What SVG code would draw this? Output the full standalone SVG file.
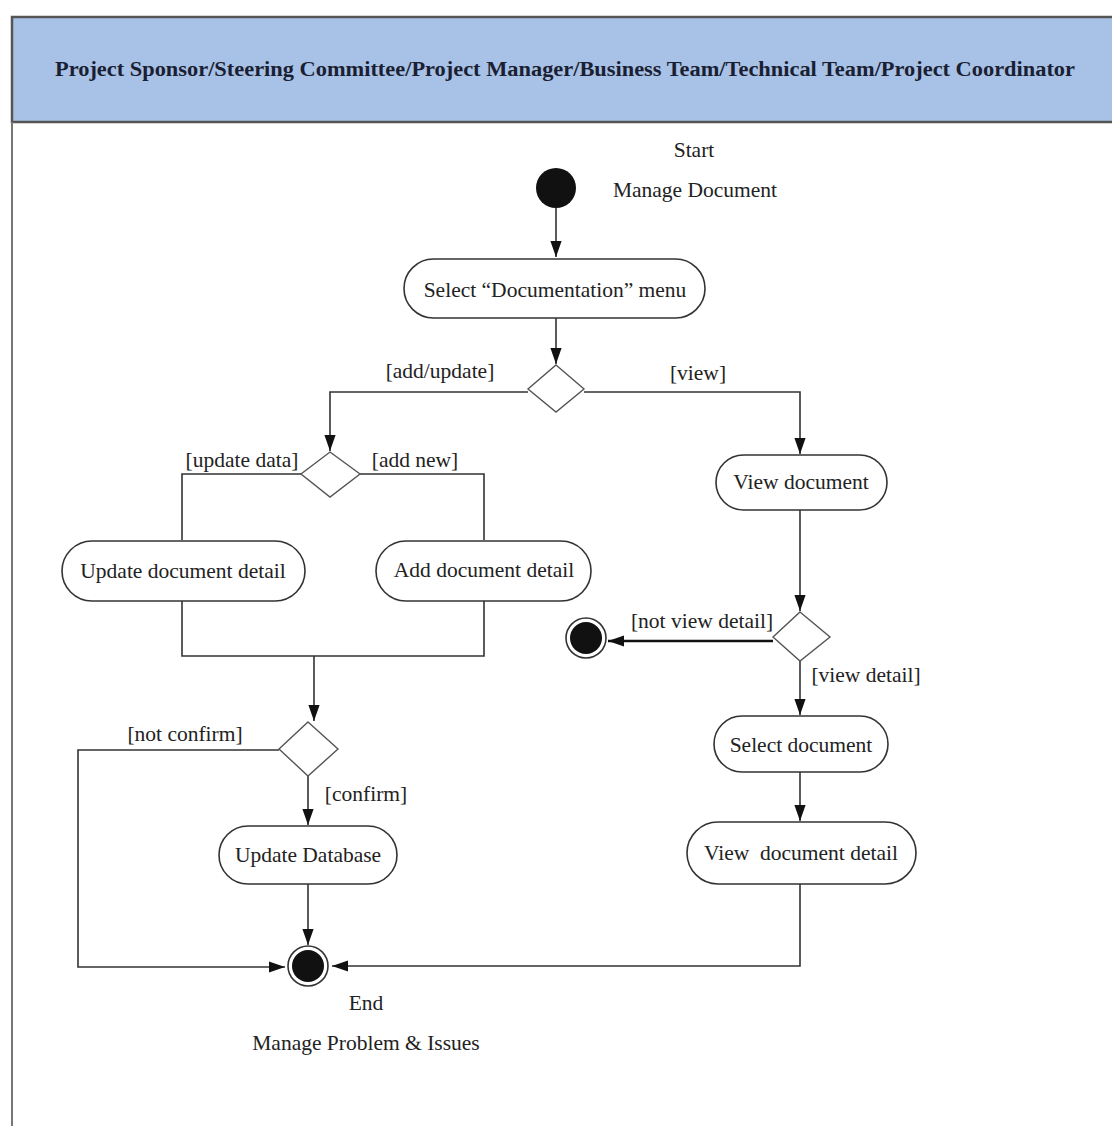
<svg xmlns="http://www.w3.org/2000/svg" width="1112" height="1126" viewBox="0 0 1112 1126">
<style>
.t{font-family:"Liberation Serif","Times New Roman",serif;font-size:21.5px;fill:#222;}
.tc{text-anchor:middle;}
.act{fill:#fff;stroke:#333;stroke-width:1.6;}
.dec{fill:#fff;stroke:#555;stroke-width:1.4;}
.ln{fill:none;stroke:#333;stroke-width:1.6;}
.lnk{fill:none;stroke:#111;stroke-width:2.4;}
</style>
<defs>
<marker id="ahb" viewBox="0 0 10 10" refX="10" refY="5" markerWidth="16" markerHeight="16" markerUnits="userSpaceOnUse" orient="auto">
<path d="M0,1.5 L10,5 L0,8.5 z" fill="#111"/>
</marker>
</defs>
<rect width="1112" height="1126" fill="#fff"/>
<g id="frame">
<rect x="12" y="17" width="1110" height="105" fill="#a8c1e6" stroke="#555" stroke-width="2.5"/>
<line x1="12" y1="122" x2="12" y2="1126" stroke="#777" stroke-width="2"/>
<text x="565" y="76" class="t tc" style="font-weight:bold;font-size:20px;fill:#1a1f33" textLength="1020" lengthAdjust="spacingAndGlyphs">Project Sponsor/Steering Committee/Project Manager/Business Team/Technical Team/Project Coordinator</text>
</g>
<g id="connectors">
<path class="ln" d="M556,208 V257" marker-end="url(#ahb)"/>
<path class="ln" d="M556,318 V364" marker-end="url(#ahb)"/>
<path class="ln" d="M528,392 H330 V451" marker-end="url(#ahb)"/>
<path class="ln" d="M584,392 H800 V454" marker-end="url(#ahb)"/>
<path class="ln" d="M301,474 H182 V540"/>
<path class="ln" d="M360,474 H484 V540"/>
<path class="ln" d="M182,600 V656 H484 V600"/>
<path class="ln" d="M314,656 V721" marker-end="url(#ahb)"/>
<path class="ln" d="M279,750 H78 V967 H285" marker-end="url(#ahb)"/>
<path class="ln" d="M308,776 V825" marker-end="url(#ahb)"/>
<path class="ln" d="M308,884 V945" marker-end="url(#ahb)"/>
<path class="ln" d="M800,884 V966 H332" marker-end="url(#ahb)"/>
<path class="ln" d="M800,510 V611" marker-end="url(#ahb)"/>
<path class="lnk" d="M773,641 H608" marker-end="url(#ahb)"/>
<path class="ln" d="M800,661 V715" marker-end="url(#ahb)"/>
<path class="ln" d="M800,772 V821" marker-end="url(#ahb)"/>
<text x="440" y="378" class="t tc">[add/update]</text>
<text x="698" y="380" class="t tc">[view]</text>
<text x="242" y="467" class="t tc">[update data]</text>
<text x="415" y="467" class="t tc">[add new]</text>
<text x="185" y="741" class="t tc">[not confirm]</text>
<text x="366" y="801" class="t tc">[confirm]</text>
<text x="702" y="628" class="t tc">[not view detail]</text>
<text x="866" y="682" class="t tc">[view detail]</text>
</g>
<g id="start">
<circle cx="556" cy="188" r="20" fill="#111"/>
<text x="694" y="157" class="t tc">Start</text>
<text x="695" y="197" class="t tc">Manage Document</text>
</g>
<g id="select-menu">
<rect x="404" y="259" width="301" height="59" rx="29.5" class="act"/>
<text x="555" y="297" class="t tc">Select “Documentation” menu</text>
</g>
<g id="decision-1">
<path d="M556,365 L584,389 L556,412 L528,389 z" class="dec"/>
</g>
<g id="decision-2">
<path d="M330,452 L360,474 L330,497 L301,474 z" class="dec"/>
</g>
<g id="update-detail">
<rect x="62" y="541" width="243" height="60" rx="30" class="act"/>
<text x="183" y="578" class="t tc">Update document detail</text>
</g>
<g id="add-detail">
<rect x="376" y="541" width="215" height="60" rx="30" class="act"/>
<text x="484" y="577" class="t tc">Add document detail</text>
</g>
<g id="decision-3">
<path d="M308,722 L338,749 L308,776 L279,749 z" class="dec"/>
</g>
<g id="update-db">
<rect x="219" y="826" width="178" height="58" rx="29" class="act"/>
<text x="308" y="862" class="t tc">Update Database</text>
</g>
<g id="end">
<circle cx="308" cy="966" r="20" fill="#fff" stroke="#333" stroke-width="1.6"/>
<circle cx="308" cy="966" r="16" fill="#111"/>
<text x="366" y="1010" class="t tc">End</text>
<text x="366" y="1050" class="t tc">Manage Problem &amp; Issues</text>
</g>
<g id="view-doc">
<rect x="716" y="455" width="171" height="55" rx="27.5" class="act"/>
<text x="801" y="489" class="t tc">View document</text>
</g>
<g id="decision-4">
<path d="M800,612 L830,637 L800,661 L773,637 z" class="dec"/>
</g>
<g id="end-2">
<circle cx="586" cy="638" r="20" fill="#fff" stroke="#333" stroke-width="1.6"/>
<circle cx="586" cy="638" r="16" fill="#111"/>
</g>
<g id="select-doc">
<rect x="714" y="716" width="174" height="56" rx="28" class="act"/>
<text x="801" y="752" class="t tc">Select document</text>
</g>
<g id="view-detail">
<rect x="687" y="822" width="229" height="62" rx="31" class="act"/>
<text x="801" y="860" class="t tc" xml:space="preserve">View  document detail</text>
</g>
</svg>
